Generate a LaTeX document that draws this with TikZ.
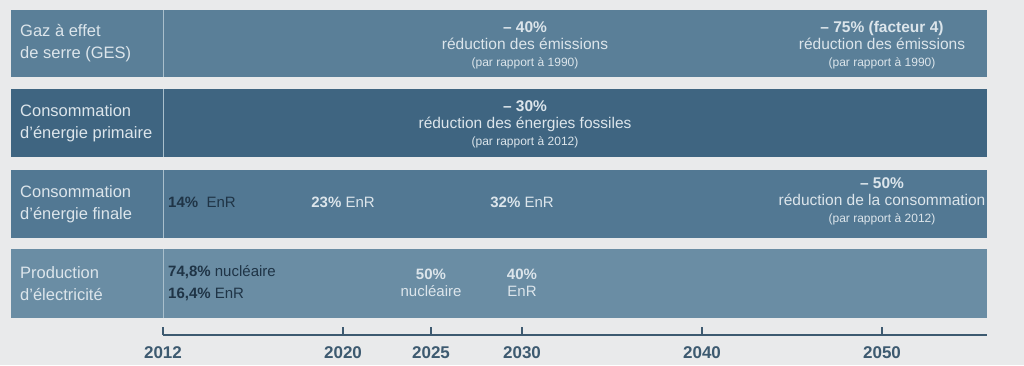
\documentclass[tikz,border=0pt]{standalone}
\usepackage{fontspec}
\setmainfont{Liberation Sans}
\usetikzlibrary{positioning,calc}

\definecolor{paper}{HTML}{E9EAEB}
\definecolor{barA}{HTML}{5A7F98}
\definecolor{barB}{HTML}{3F6581}
\definecolor{barC}{HTML}{527893}
\definecolor{barD}{HTML}{6A8DA4}
\definecolor{divline}{HTML}{A9BFCC}
\definecolor{lighttext}{HTML}{DCE5EB}
\definecolor{darktext}{HTML}{1F3446}
\definecolor{axis}{HTML}{3D5A70}

\begin{document}
\begin{tikzpicture}[x=1pt, y=-1pt,
  bar/.style = {anchor=north west, minimum width=976pt, inner sep=0pt},
  rowlabel/.style = {anchor=west, align=left, text=lighttext, inner sep=0pt,
    font=\fontsize{16.5}{22}\selectfont},
  goal/.style = {align=center, text=lighttext, inner sep=0pt,
    font=\fontsize{15.5}{17}\selectfont},
  share/.style = {inner sep=0pt, font=\fontsize{15}{22}\selectfont},
  year/.style = {text=axis, font=\bfseries\fontsize{17}{20}\selectfont}]

\fill[paper] (0,0) rectangle (1024,365);
\useasboundingbox (0,0) rectangle (1024,365);

% the four rows
\node[bar, fill=barA, minimum height=67pt] (ges) at (11,10) {};
\node[bar, fill=barB, minimum height=68pt] (primaire) at (11,89) {};
\node[bar, fill=barC, minimum height=68pt] (finale) at (11,170) {};
\node[bar, fill=barD, minimum height=69pt] (elec) at (11,249) {};

\foreach \row in {ges, primaire, finale, elec}
  \draw[divline, line width=1pt] ($(\row.north west)+(152,0)$) -- ($(\row.south west)+(152,0)$);

\node[rowlabel] (gesLbl) at (20,43.5) {Gaz à effet\\de serre (GES)};
\node[rowlabel] (primLbl) at (20,123) {Consommation\\d’énergie primaire};
\node[rowlabel] (finLbl) at (20,204) {Consommation\\d’énergie finale};
\node[rowlabel] (elecLbl) at (20,283.5) {Production\\d’électricité};

% targets
\node[goal] (ges2030) at (525,45) {\textbf{– 40\%}\\réduction des émissions\\{\fontsize{12}{17}\selectfont(par rapport à 1990)}};
\node[goal] (ges2050) at (882,45) {\textbf{– 75\% (facteur 4)}\\réduction des émissions\\{\fontsize{12}{17}\selectfont(par rapport à 1990)}};
\node[goal] (prim2030) at (525,124.5) {\textbf{– 30\%}\\réduction des énergies fossiles\\{\fontsize{12}{17}\selectfont(par rapport à 2012)}};
\node[goal] (fin2050) at (882,201) {\textbf{– 50\%}\\réduction de la consommation\\{\fontsize{12}{17}\selectfont(par rapport à 2012)}};

\node[share, anchor=west, text=darktext] (fin2012) at (168,202) {\textbf{14\%}\ \ EnR};
\node[share, text=lighttext] (fin2020) at (343,202) {\textbf{23\%} EnR};
\node[share, text=lighttext] (fin2030) at (522,202) {\textbf{32\%} EnR};

\node[share, anchor=west, align=left, text=darktext] (elec2012) at (168,283)
  {\textbf{74,8\%} nucléaire\\\textbf{16,4\%} EnR};
\node[share, align=center, text=lighttext, font=\fontsize{15}{17}\selectfont] (elec2025) at (431,283)
  {\textbf{50\%}\\nucléaire};
\node[share, align=center, text=lighttext, font=\fontsize{15}{17}\selectfont] (elec2030) at (522,283)
  {\textbf{40\%}\\EnR};

% time axis
\coordinate (axisStart) at (163,335);
\coordinate (axisEnd) at (987,335);
\draw[axis, line width=1.5pt] (axisStart) -- (axisEnd);
\foreach \yr/\x in {2012/163, 2020/343, 2025/431, 2030/522, 2040/702, 2050/882} {
  \draw[axis, line width=1.5pt] (\x,335) -- (\x,327);
  \node[year] (y\yr) at (\x,353) {\yr};
}

\end{tikzpicture}
\end{document}
